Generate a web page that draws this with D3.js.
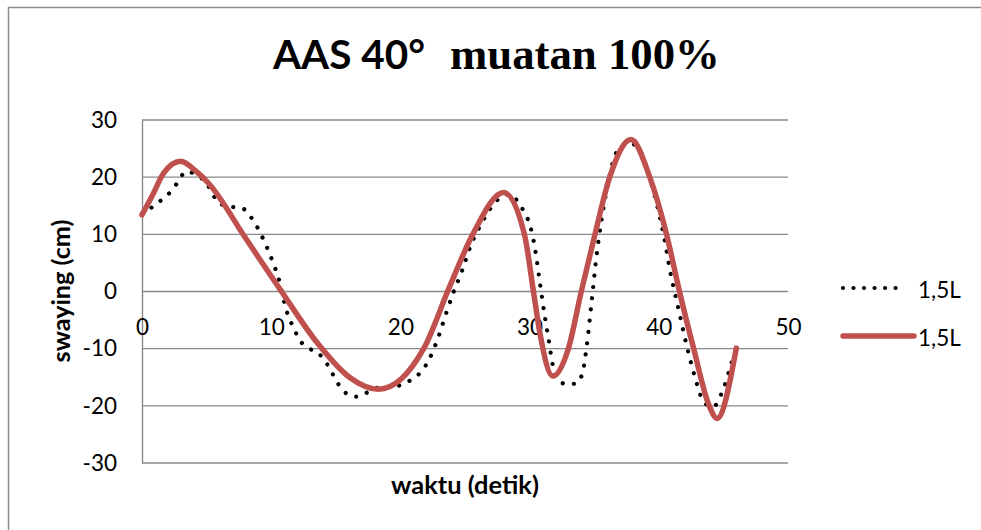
<!DOCTYPE html>
<html>
<head>
<meta charset="utf-8">
<script src="https://cdn.jsdelivr.net/npm/d3@7"></script>
<style>
  html, body { margin: 0; padding: 0; background: #ffffff; }
  svg { display: block; }
</style>
</head>
<body>
<script>
// ---------- data ----------
const titleSans = "AAS 40°";
const titleSerif = "muatan 100%";
const xTitle = "waktu (detik)";
const yTitle = "swaying (cm)";
const xTicks = [0, 10, 20, 30, 40, 50];
const yTicks = [-30, -20, -10, 0, 10, 20, 30];
const seriesNames = ["1,5L", "1,5L"];

// dotted black series
const dotTime = [0, 0.75, 1.5, 2.2, 2.8, 3.4, 4.2, 5.1, 5.5, 6.1, 7.0, 7.9, 8.5, 9.4, 10.1, 10.7, 11.1, 11.8, 12.2, 12.9, 13.7, 14.3, 15.2, 15.8, 16.6, 17.5, 18.5, 19.3, 20.2, 21.0, 21.7, 22.2, 22.9, 23.5, 24.1, 24.8, 25.4, 26.3, 27.3, 28.3, 29.1, 29.6, 30.0, 30.4, 30.8, 31.2, 31.5, 31.8, 32.1, 32.8, 33.6, 34.1, 34.4, 34.8, 35.2, 35.6, 36.1, 36.5, 36.8, 37.2, 37.7, 38.3, 38.7, 39.3, 39.8, 40.4, 40.9, 41.5, 42.1, 42.8, 43.4, 44.1, 44.6, 44.9, 45.2, 45.5, 46.0];
const dotSway = [13.6, 14.7, 16.0, 17.4, 19.2, 21.0, 20.4, 18.6, 16.9, 15.3, 14.8, 14.4, 12.8, 9.1, 5.3, 1.3, -2.7, -6.7, -8.5, -9.9, -10.9, -12.6, -16.2, -17.8, -18.4, -17.6, -16.7, -16.7, -16.2, -15.2, -13.8, -12.0, -8.2, -4.1, -0.2, 3.8, 7.8, 12.0, 15.5, 17.0, 15.7, 13.8, 11.8, 7.8, 1.5, -4.7, -8.8, -13.0, -14.9, -16.2, -16.1, -14.2, -9.9, -1.8, 6.6, 13.0, 19.2, 23.1, 24.6, 25.4, 26.0, 25.3, 23.9, 19.8, 15.7, 9.6, 3.3, -2.8, -8.9, -15.0, -19.0, -20.2, -19.3, -17.5, -15.8, -13.4, -10.0];

// smooth red series
const redTime = [0, 0.8, 1.7, 3.0, 4.2, 5.2, 8.0, 10.8, 13.5, 16.0, 18.3, 21.8, 23.8, 25.6, 28.0, 29.6, 30.3, 30.8, 31.8, 33.0, 34.0, 35.06, 36.2, 37.85, 39.3, 40.6, 41.6, 42.7, 43.9, 44.5, 46.0];
const redSway = [13.4, 16.8, 20.8, 22.8, 21.0, 18.8, 9.4, 0, -8.8, -14.9, -17.1, -10.0, 0.8, 10.0, 17.3, 10.0, 0, -7.3, -14.8, -10.0, 0, 10.0, 20.0, 26.6, 20.0, 10.0, 0, -10.0, -20.0, -22.2, -9.9];

// ---------- layout ----------
const W = 981, H = 530;
const plot = { left: 142, right: 788, top: 120, bottom: 463 };
const sans = "Lato, 'Open Sans', 'Liberation Sans', sans-serif";
const serif = "'Liberation Serif', 'DejaVu Serif', serif";
const gridColor = "#898989";
const redColor = "#C0504D";

const svg = d3.select("body").append("svg").attr("width", W).attr("height", H);

// chart border (top + left)
svg.append("path")
  .attr("d", `M8.5,${H} V7.5 H${W}`)
  .attr("fill", "none").attr("stroke", "#8c8c8c").attr("stroke-width", 1.5);

const x = d3.scaleLinear().domain([0, 50]).range([plot.left, plot.right]);
const y = d3.scaleLinear().domain([-30, 30]).range([plot.bottom, plot.top]);

function fitWidth(sel, target) {
  const w = sel.node().getComputedTextLength();
  const fs = parseFloat(sel.attr("font-size"));
  sel.attr("font-size", fs * target / w);
}

// gridlines
svg.append("g").selectAll("line").data(yTicks).join("line")
  .attr("x1", plot.left).attr("x2", plot.right)
  .attr("y1", d => y(d)).attr("y2", d => y(d))
  .attr("stroke", gridColor).attr("stroke-width", 1.4);

// y axis
const gy = svg.append("g").attr("transform", `translate(${plot.left},0)`)
  .call(d3.axisLeft(y).tickValues(yTicks).tickSize(0).tickPadding(25).tickFormat(d => String(d)));
gy.select(".domain").attr("stroke", gridColor).attr("stroke-width", 1.4);
gy.selectAll("text").attr("font-family", sans).attr("font-size", 22.5).attr("fill", "#000");

// x axis at y = 0
const gx = svg.append("g").attr("transform", `translate(0,${y(0)})`)
  .call(d3.axisBottom(x).tickValues(xTicks).tickSize(0).tickFormat(d => String(d)));
gx.select(".domain").remove();
gx.selectAll("text").attr("font-family", sans).attr("font-size", 22.5).attr("fill", "#000")
  .attr("y", 35.5).attr("dy", "0.36em");

// series
const lineGen = d3.line().curve(d3.curveMonotoneX);
const dotPts = dotTime.map((t, i) => [x(t), y(dotSway[i])]);
const redPts = redTime.map((t, i) => [x(t), y(redSway[i])]);

svg.append("path").attr("d", lineGen(dotPts))
  .attr("fill", "none").attr("stroke", "#000").attr("stroke-width", 4.2)
  .attr("stroke-linecap", "round").attr("stroke-dasharray", "0.01 11.3");

svg.append("path").attr("d", lineGen(redPts))
  .attr("fill", "none").attr("stroke", redColor).attr("stroke-width", 5.5)
  .attr("stroke-linecap", "round").attr("stroke-linejoin", "round");

// title
const t1 = svg.append("text").attr("x", 273).attr("y", 69)
  .attr("font-family", sans).attr("font-weight", 700).attr("font-size", 34).text(titleSans);
fitWidth(t1, 152);
const t2 = svg.append("text").attr("x", 450).attr("y", 69)
  .attr("font-family", serif).attr("font-weight", 700).attr("font-size", 36).text(titleSerif);
fitWidth(t2, 270);

// axis titles
const xt = svg.append("text").attr("x", (plot.left + plot.right) / 2).attr("y", 494)
  .attr("text-anchor", "middle").attr("font-family", sans).attr("font-weight", 700)
  .attr("font-size", 19).text(xTitle);
fitWidth(xt, 148);
const yt = svg.append("text").attr("transform", "translate(70,291) rotate(-90)")
  .attr("text-anchor", "middle").attr("font-family", sans).attr("font-weight", 700)
  .attr("font-size", 19).text(yTitle);
fitWidth(yt, 143);

// legend
const legend = svg.append("g");
const legY = [288, 336];
legend.append("line").attr("x1", 843).attr("x2", 906).attr("y1", legY[0]).attr("y2", legY[0])
  .attr("stroke", "#000").attr("stroke-width", 4.2).attr("stroke-linecap", "round")
  .attr("stroke-dasharray", "0.01 10.5");
legend.append("line").attr("x1", 843).attr("x2", 914).attr("y1", legY[1]).attr("y2", legY[1])
  .attr("stroke", redColor).attr("stroke-width", 5.5).attr("stroke-linecap", "round");
legend.selectAll("text").data(seriesNames).join("text")
  .attr("x", 918).attr("y", (d, i) => legY[i] + 2).attr("dy", "0.36em")
  .attr("font-family", sans).attr("font-size", 22.5).attr("fill", "#000").text(d => d);
</script>
</body>
</html>
